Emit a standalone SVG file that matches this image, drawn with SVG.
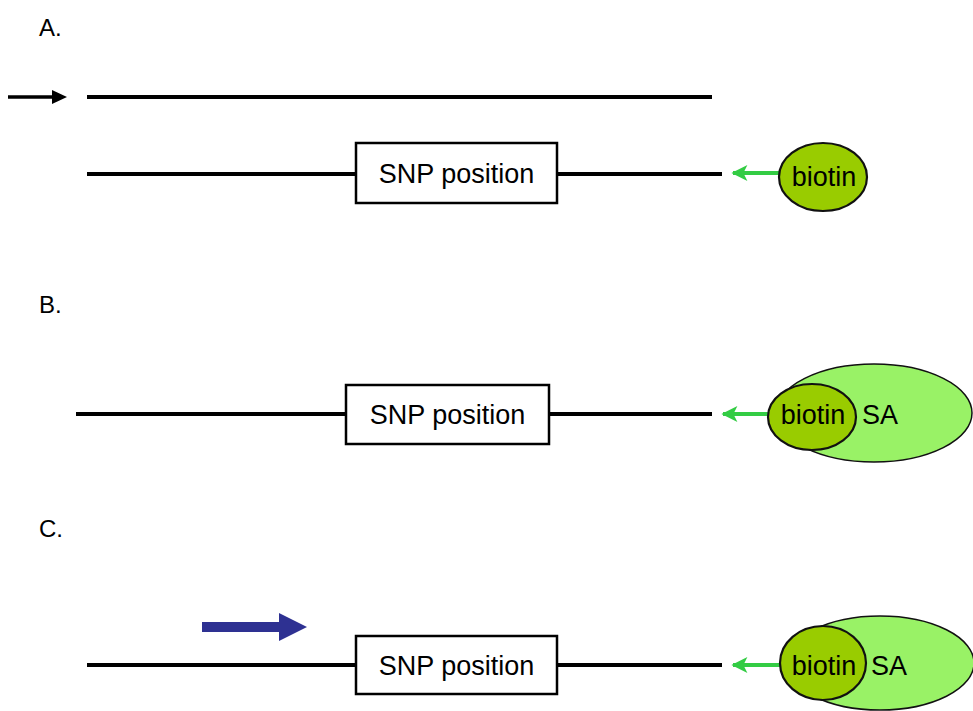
<svg xmlns="http://www.w3.org/2000/svg" width="973" height="711" viewBox="0 0 973 711">
<defs>
<style>
.lbl{font-family:"Liberation Sans",Arial,sans-serif;font-size:24px;fill:#000}
.t{font-family:"Liberation Sans",Arial,sans-serif;font-size:27px;fill:#000}
.strand{stroke:#000;stroke-width:4;fill:none}
.box{fill:#fff;stroke:#000;stroke-width:2.5}
.biotin{fill:#99cc00;stroke:#111;stroke-width:2.2}
.sa{fill:#99f266;stroke:#111;stroke-width:1.5}
.garrow{stroke:#33cc44;stroke-width:4;fill:none}
</style>
<marker id="gh" viewBox="0 0 10 10" refX="9" refY="5" markerWidth="4.3" markerHeight="4" orient="auto" markerUnits="strokeWidth">
<path d="M0,0 L10,5 L0,10 L2.5,5 Z" fill="#33cc44"/>
</marker>
</defs>
<text class="lbl" x="39" y="36">A.</text>
<text class="lbl" x="39" y="313">B.</text>
<text class="lbl" x="39" y="537">C.</text>

<g id="connectors">
<line x1="8" y1="97" x2="54" y2="97" stroke="#000" stroke-width="3.5"/>
<polygon points="52,90 67,97 52,104" fill="#000"/>
<line class="strand" x1="87" y1="97" x2="712" y2="97"/>
<line class="strand" x1="87" y1="174" x2="722" y2="174"/>
<line class="garrow" x1="780" y1="173" x2="733" y2="173" marker-end="url(#gh)"/>
<line class="strand" x1="76" y1="414" x2="712" y2="414"/>
<line class="garrow" x1="770" y1="414" x2="723" y2="414" marker-end="url(#gh)"/>
<line class="strand" x1="87" y1="665" x2="722" y2="665"/>
<line class="garrow" x1="780" y1="665" x2="733" y2="665" marker-end="url(#gh)"/>
<polygon points="202,622 279,622 279,613 307,627 279,641 279,632 202,632" fill="#2e3192"/>
</g>

<g id="snpA"><rect class="box" x="356" y="143" width="201" height="60"/><text class="t" x="456.5" y="183" text-anchor="middle">SNP position</text></g>
<g id="biotinA"><ellipse class="biotin" cx="823" cy="177" rx="44" ry="34"/><text class="t" x="824" y="186" text-anchor="middle">biotin</text></g>

<g id="snpB"><rect class="box" x="346" y="385" width="203" height="59"/><text class="t" x="447.5" y="424" text-anchor="middle">SNP position</text></g>
<g id="saB"><ellipse class="sa" cx="874" cy="413" rx="98" ry="49"/><text class="t" x="862" y="424">SA</text></g>
<g id="biotinB"><ellipse class="biotin" cx="812" cy="417" rx="44" ry="33"/><text class="t" x="813" y="424" text-anchor="middle">biotin</text></g>

<g id="snpC"><rect class="box" x="356" y="636" width="201" height="58"/><text class="t" x="456.5" y="675" text-anchor="middle">SNP position</text></g>
<g id="saC"><ellipse class="sa" cx="880" cy="663" rx="94" ry="47"/><text class="t" x="871" y="675">SA</text></g>
<g id="biotinC"><ellipse class="biotin" cx="823" cy="663" rx="43" ry="37"/><text class="t" x="824" y="675" text-anchor="middle">biotin</text></g>
</svg>
